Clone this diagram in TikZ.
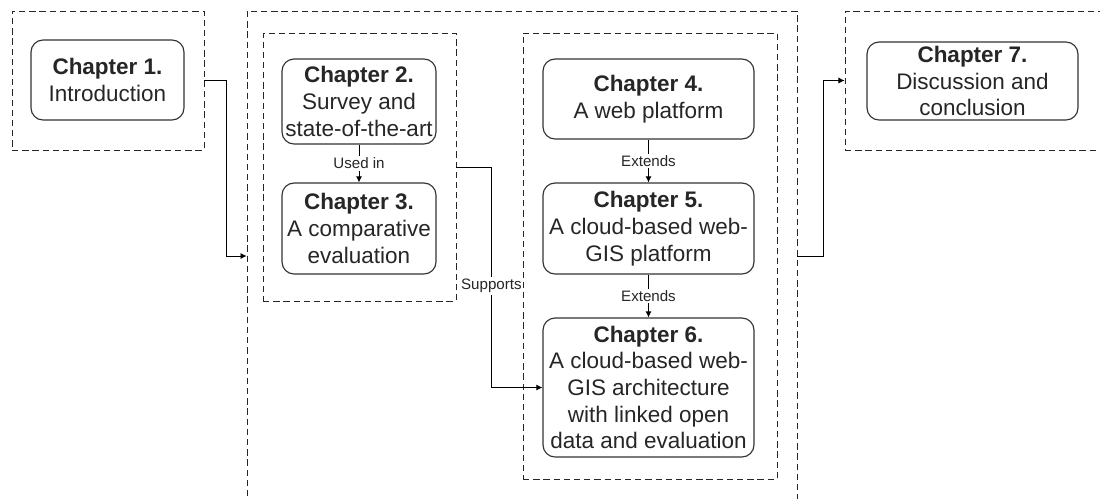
\documentclass[tikz,border=0pt]{standalone}
\usepackage{fontspec}
\setmainfont{Liberation Sans}
\usetikzlibrary{arrows.meta}
\tikzset{
	chap/.style={draw=black!80,line width=0.65pt,rounded corners=0.24cm,align=center,inner sep=0pt,
		text=black!85,font=\fontsize{12.8}{15.2}\selectfont},
	part/.style={draw=black!85,line width=0.45pt,dash pattern=on 3.6pt off 2.2pt,inner sep=0pt},
	lbl/.style={fill=white,inner sep=1pt,text=black!85,font=\fontsize{8.6}{10}\selectfont},
	arr/.style={line width=0.55pt,-{Latex[length=3.5pt,width=3.5pt]}}
}
\begin{document}
\begin{tikzpicture}[x=0.02cm,y=-0.02cm]
\useasboundingbox (0,0) rectangle (1100,498);
% dashed groups
\node[part,minimum width=3.84cm,minimum height=2.78cm] (part1) at (108,80.5) {};
\node[part,minimum width=11cm,minimum height=9.8cm] (part2) at (522,256) {};
\node[part,minimum width=3.86cm,minimum height=5.36cm] (groupA) at (359.5,167) {};
\node[part,minimum width=5.08cm,minimum height=8.92cm] (groupB) at (650,256) {};
\node[part,minimum width=6.3cm,minimum height=2.78cm] (part3) at (1002.5,80.5) {};
% chapters
\node[chap,minimum width=3.06cm,minimum height=1.6cm] (ch1) at (107.5,80) {\textbf{Chapter 1.}\\Introduction};
\node[chap,minimum width=3.08cm,minimum height=1.7cm] (ch2) at (359,101.5) {\textbf{Chapter 2.}\\Survey and\\state-of-the-art};
\node[chap,minimum width=3.08cm,minimum height=1.82cm] (ch3) at (359,228.5) {\textbf{Chapter 3.}\\A comparative\\evaluation};
\node[chap,minimum width=4.22cm,minimum height=1.6cm] (ch4) at (648.5,99) {\textbf{Chapter 4.}\\A web platform};
\node[chap,minimum width=4.22cm,minimum height=1.82cm] (ch5) at (648.5,228.5) {\textbf{Chapter 5.}\\A cloud-based web-\\GIS platform};
\node[chap,minimum width=4.22cm,minimum height=2.78cm] (ch6) at (648.5,387.5) {\textbf{Chapter 6.}\\A cloud-based web-\\GIS architecture\\with linked open\\data and evaluation};
\node[chap,minimum width=4.22cm,minimum height=1.56cm] (ch7) at (972.5,81) {\textbf{Chapter 7.}\\Discussion and\\conclusion};
% links
\draw[arr] (ch2) -- node[lbl]{Used in} (ch3);
\draw[arr] (ch4) -- node[lbl]{Extends} (ch5);
\draw[arr] (ch5) -- node[lbl]{Extends} (ch6);
\draw[arr] (part1.east) -- ++(22,0) |- (part2.west);
\draw[arr] (groupA.east) -- ++(35,0) |- node[lbl,pos=0.27]{Supports} (ch6.west);
\draw[arr] (part2.east) -- ++(26,0) |- (part3.west);
\end{tikzpicture}
\end{document}
